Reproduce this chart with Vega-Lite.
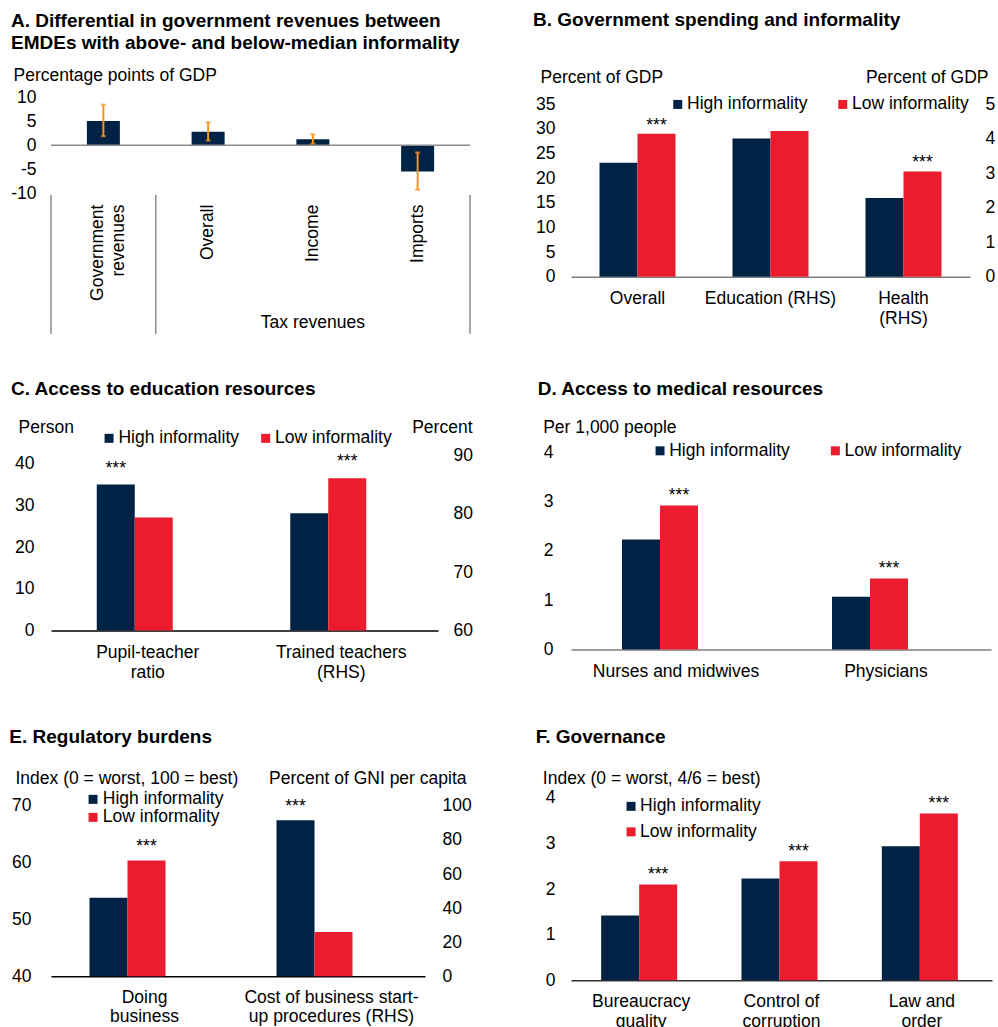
{
"$schema": "https://vega.github.io/schema/vega-lite/v6.json",
"background": "white",
"padding": {"left": 9, "top": 10.5, "right": 4, "bottom": 0},
"config": {
 "font": "Liberation Sans",
 "view": {"stroke": null},
 "axis": {"labelFont": "Liberation Sans", "labelFontSize": 17.5, "labelColor": "#000", "titleFont": "Liberation Sans", "titleFontSize": 17.5, "titleFontWeight": "normal", "titleColor": "#000", "grid": false, "ticks": false, "tickSize": 0, "labelLimit": 0, "labelOverlap": false},
 "axisY": {"domain": false},
 "legend": {"labelFont": "Liberation Sans", "labelFontSize": 17.5, "labelColor": "#000", "symbolType": "square", "symbolSize": 81, "symbolStrokeWidth": 0, "labelLimit": 0},
 "title": {"font": "Liberation Sans", "fontSize": 19, "fontWeight": "bold", "color": "#000", "anchor": "start", "frame": "group", "offset": 0},
 "text": {"font": "Liberation Sans", "fontSize": 17.5, "color": "#000"}
},
"columns": 2,
"bounds": "flush",
"spacing": {"row": 147.7, "column": 101},
"resolve": {"scale": {"color": "independent"}, "legend": {"color": "independent"}},
"concat": [
 {
  "width": 419, "height": 206.3,
  "title": {"text": ["A. Differential in government revenues between", "EMDEs with above- and below-median informality"], "dx": -40, "dy": -10, "lineHeight": 22},
  "layer": [
   {"data": {"values": [
     {"cat": "Government revenues", "v": 5.1, "lo": 1.9, "hi": 8.5},
     {"cat": "Overall", "v": 2.85, "lo": 1.0, "hi": 4.8},
     {"cat": "Income", "v": 1.25, "lo": 0.35, "hi": 2.3},
     {"cat": "Imports", "v": -5.5, "lo": -9.3, "hi": -1.5}]},
    "layer": [
     {"mark": {"type": "bar", "color": "#002245"},
      "encoding": {
       "x": {"field": "cat", "type": "nominal", "sort": null, "scale": {"domain": ["Government revenues", "Overall", "Income", "Imports"], "paddingInner": 0.685, "paddingOuter": 0.3425},
             "axis": {"title": null, "offset": -110.7, "labelAngle": -90, "labelAlign": "right", "labelBaseline": "middle", "labelPadding": 11, "domain": false, "labelLineHeight": 21,
                      "labelOffset": {"condition": {"test": "datum.label == 'Government revenues'", "value": -5}, "value": 0},
                      "labelExpr": "datum.label == 'Government revenues' ? ['Government', 'revenues'] : datum.label"}},
       "y": {"field": "v", "type": "quantitative", "title": "Percentage points of GDP", "scale": {"domain": [-33.16, 10], "nice": false, "zero": false},
             "axis": {"values": [-10, -5, 0, 5, 10], "labelOverlap": false, "labelExpr": "datum.value + ''", "labelPadding": 15, "titleAngle": 0, "titleAlign": "left", "titleBaseline": "middle", "titleX": -38, "titleY": -21.7}}}},
     {"data": {"values": [{}]}, "mark": {"type": "rule", "color": "#8c8c8c", "strokeWidth": 1.5},
      "encoding": {"y": {"datum": 0, "type": "quantitative", "title": "Percentage points of GDP"}}},
     {"mark": {"type": "errorbar", "color": "#F7941D", "thickness": 2, "ticks": {"size": 5, "thickness": 2}},
      "encoding": {
       "x": {"field": "cat", "type": "nominal", "sort": null},
       "y": {"field": "lo", "type": "quantitative", "title": "Percentage points of GDP"},
       "y2": {"field": "hi"}}}
    ]},
   {"data": {"values": [{"b": 0}, {"b": 1}, {"b": 4}]},
    "layer": [
     {"mark": {"type": "rule", "color": "#8c8c8c", "strokeWidth": 1.5},
      "encoding": {
       "x": {"field": "b", "type": "quantitative", "scale": {"domain": [0, 4], "nice": false, "zero": false}, "axis": null},
       "y": {"datum": -10.4, "type": "quantitative", "title": "Percentage points of GDP"},
       "y2": {"datum": -39.5}}},
     {"data": {"values": [{}]}, "mark": {"type": "text", "text": "Tax revenues", "fontSize": 17.5, "baseline": "middle", "align": "center"},
      "encoding": {
       "x": {"datum": 2.5, "type": "quantitative", "axis": null},
       "y": {"datum": -37.1, "type": "quantitative", "title": "Percentage points of GDP"}}}
    ]}
  ],
  "resolve": {"scale": {"x": "independent"}}
 },
 {
  "width": 399, "height": 179.3,
  "title": {"text": "B. Government spending and informality", "dx": -38, "dy": -35},
  "data": {"values": [
   {"cat": "Overall", "s": "High informality", "v": 23.1, "side": "L"},
   {"cat": "Overall", "s": "Low informality", "v": 29.0, "side": "L", "star": "***"},
   {"cat": "Education (RHS)", "s": "High informality", "v": 4.0, "side": "R"},
   {"cat": "Education (RHS)", "s": "Low informality", "v": 4.22, "side": "R"},
   {"cat": "Health (RHS)", "s": "High informality", "v": 2.28, "side": "R"},
   {"cat": "Health (RHS)", "s": "Low informality", "v": 3.05, "side": "R", "star": "***"}]},
  "encoding": {
   "x": {"field": "cat", "type": "nominal", "sort": null, "scale": {"domain": ["Overall", "Education (RHS)", "Health (RHS)"], "paddingInner": 0.4286, "paddingOuter": 0.2143},
         "axis": {"title": null, "labelAngle": 0, "domain": true, "domainColor": "#7f7f7f", "domainWidth": 1.5, "labelPadding": 13, "labelBaseline": "top", "labelLineHeight": 20, "labelExpr": "datum.label == 'Health (RHS)' ? ['Health', '(RHS)'] : datum.label"}},
   "xOffset": {"field": "s", "type": "nominal", "sort": null, "scale": {"domain": ["High informality", "Low informality"], "paddingInner": 0, "paddingOuter": 0}},
   "color": {"field": "s", "type": "nominal", "scale": {"domain": ["High informality", "Low informality"], "range": ["#002245", "#EB1C2D"]},
             "legend": {"title": null, "orient": "none", "direction": "horizontal", "legendX": 98, "legendY": -2.2, "columnPadding": 26, "labelOffset": 0.5, "padding": 0, "offset": 0}}
  },
  "layer": [
   {"transform": [{"filter": "datum.side == 'L'"}],
    "layer": [
     {"mark": "bar", "encoding": {"y": {"field": "v", "type": "quantitative", "scale": {"domain": [0, 36.34], "nice": false, "zero": false},
        "axis": {"orient": "left", "values": [0, 5, 10, 15, 20, 25, 30, 35], "labelOverlap": false, "labelPadding": 16, "title": "Percent of GDP", "titleAngle": 0, "titleAlign": "left", "titleBaseline": "middle", "titleX": -31, "titleY": -19.7}}}},
     {"transform": [{"filter": "isValid(datum.star)"}], "mark": {"type": "text", "fontSize": 17.5, "baseline": "alphabetic", "dy": -3},
      "encoding": {"y": {"field": "v", "type": "quantitative",
        "axis": {"orient": "left", "values": [0, 5, 10, 15, 20, 25, 30, 35], "labelOverlap": false, "labelPadding": 16, "title": "Percent of GDP", "titleAngle": 0, "titleAlign": "left", "titleBaseline": "middle", "titleX": -31, "titleY": -19.7}},
        "text": {"field": "star"}, "color": {"value": "#000"}}}
    ]},
   {"transform": [{"filter": "datum.side == 'R'"}],
    "layer": [
     {"mark": "bar", "encoding": {"y": {"field": "v", "type": "quantitative", "scale": {"domain": [0, 5.19], "nice": false, "zero": false},
        "axis": {"orient": "right", "values": [0, 1, 2, 3, 4, 5], "labelOverlap": false, "labelPadding": 15, "title": "Percent of GDP", "titleAngle": 0, "titleAlign": "right", "titleBaseline": "middle", "titleX": 18, "titleY": -19.7}}}},
     {"transform": [{"filter": "isValid(datum.star)"}], "mark": {"type": "text", "fontSize": 17.5, "baseline": "alphabetic", "dy": -3},
      "encoding": {"y": {"field": "v", "type": "quantitative",
        "axis": {"orient": "right", "values": [0, 1, 2, 3, 4, 5], "labelOverlap": false, "labelPadding": 15, "title": "Percent of GDP", "titleAngle": 0, "titleAlign": "right", "titleBaseline": "middle", "titleX": 18, "titleY": -19.7}},
        "text": {"field": "star"}, "color": {"value": "#000"}}}
    ]}
  ],
  "resolve": {"scale": {"y": "independent"}}
 },
 {
  "width": 387, "height": 178.3,
  "title": {"text": "C. Access to education resources", "dx": -40, "dy": -16},
  "data": {"values": [
   {"cat": "Pupil-teacher ratio", "s": "High informality", "v": 35.0, "side": "L", "star": "***"},
   {"cat": "Pupil-teacher ratio", "s": "Low informality", "v": 27.1, "side": "L"},
   {"cat": "Trained teachers (RHS)", "s": "High informality", "v": 80.1, "side": "R"},
   {"cat": "Trained teachers (RHS)", "s": "Low informality", "v": 86.1, "side": "R", "star": "***"}]},
  "encoding": {
   "x": {"field": "cat", "type": "nominal", "sort": null, "scale": {"domain": ["Pupil-teacher ratio", "Trained teachers (RHS)"], "paddingInner": 0.473, "paddingOuter": 0.2365},
         "axis": {"title": null, "labelAngle": 0, "domain": true, "domainColor": "#000", "domainWidth": 1.5, "labelPadding": 13, "labelBaseline": "top", "labelLineHeight": 20, "labelExpr": "datum.label == 'Pupil-teacher ratio' ? ['Pupil-teacher', 'ratio'] : datum.label == 'Trained teachers (RHS)' ? ['Trained teachers', '(RHS)'] : datum.label"}},
   "xOffset": {"field": "s", "type": "nominal", "sort": null, "scale": {"domain": ["High informality", "Low informality"], "paddingInner": 0.1455, "paddingOuter": 0}},
   "color": {"field": "s", "type": "nominal", "scale": {"domain": ["High informality", "Low informality"], "range": ["#002245", "#EB1C2D"]},
             "legend": {"title": null, "orient": "none", "direction": "horizontal", "legendX": 49.3, "legendY": -23, "columnPadding": 17.6, "labelOffset": 0.6, "padding": 0, "offset": 0}}
  },
  "layer": [
   {"transform": [{"filter": "datum.side == 'L'"}],
    "layer": [
     {"mark": "bar", "encoding": {"y": {"field": "v", "type": "quantitative", "scale": {"domain": [0, 42.76], "nice": false, "zero": false},
        "axis": {"orient": "left", "values": [0, 10, 20, 30, 40], "labelOverlap": false, "labelPadding": 17, "title": "Person", "titleAngle": 0, "titleAlign": "left", "titleBaseline": "middle", "titleX": -33, "titleY": -24.4}}}},
     {"transform": [{"filter": "isValid(datum.star)"}], "mark": {"type": "text", "fontSize": 17.5, "baseline": "alphabetic", "dy": -11},
      "encoding": {"y": {"field": "v", "type": "quantitative",
        "axis": {"orient": "left", "values": [0, 10, 20, 30, 40], "labelOverlap": false, "labelPadding": 17, "title": "Person", "titleAngle": 0, "titleAlign": "left", "titleBaseline": "middle", "titleX": -33, "titleY": -24.4}},
        "text": {"field": "star"}, "color": {"value": "#000"}}}
    ]},
   {"transform": [{"filter": "datum.side == 'R'"}],
    "layer": [
     {"mark": "bar", "encoding": {"y": {"field": "v", "type": "quantitative", "scale": {"domain": [60, 90.58], "nice": false, "zero": false},
        "axis": {"orient": "right", "values": [60, 70, 80, 90], "labelOverlap": false, "labelPadding": 15, "title": "Percent", "titleAngle": 0, "titleAlign": "right", "titleBaseline": "middle", "titleX": 34, "titleY": -24.4}},
        "y2": {"datum": 60}}},
     {"transform": [{"filter": "isValid(datum.star)"}], "mark": {"type": "text", "fontSize": 17.5, "baseline": "alphabetic", "dy": -11},
      "encoding": {"y": {"field": "v", "type": "quantitative",
        "axis": {"orient": "right", "values": [60, 70, 80, 90], "labelOverlap": false, "labelPadding": 15, "title": "Percent", "titleAngle": 0, "titleAlign": "right", "titleBaseline": "middle", "titleX": 34, "titleY": -24.4}},
        "text": {"field": "star"}, "color": {"value": "#000"}}}
    ]}
  ],
  "resolve": {"scale": {"y": "independent"}}
 },
 {
  "width": 420, "height": 197.3,
  "title": {"text": "D. Access to medical resources", "dx": -33.3, "dy": -16},
  "data": {"values": [
   {"cat": "Nurses and midwives", "s": "High informality", "v": 2.23},
   {"cat": "Nurses and midwives", "s": "Low informality", "v": 2.92, "star": "***"},
   {"cat": "Physicians", "s": "High informality", "v": 1.07},
   {"cat": "Physicians", "s": "Low informality", "v": 1.44, "star": "***"}]},
  "encoding": {
   "x": {"field": "cat", "type": "nominal", "sort": null, "scale": {"domain": ["Nurses and midwives", "Physicians"], "paddingInner": 0.4857, "paddingOuter": 0.2429},
         "axis": {"title": null, "labelAngle": 0, "domain": true, "domainColor": "#7f7f7f", "domainWidth": 1.5, "labelPadding": 13, "labelBaseline": "top", "labelLineHeight": 20}},
   "xOffset": {"field": "s", "type": "nominal", "sort": null, "scale": {"domain": ["High informality", "Low informality"], "paddingInner": 0.2, "paddingOuter": 0}},
   "color": {"field": "s", "type": "nominal", "scale": {"domain": ["High informality", "Low informality"], "range": ["#002245", "#EB1C2D"]},
             "legend": {"title": null, "orient": "none", "direction": "horizontal", "legendX": 80.3, "legendY": -10.5, "columnPadding": 36.3, "labelOffset": 0.4, "padding": 0, "offset": 0}}
  },
  "layer": [
   {"mark": "bar", "encoding": {"y": {"field": "v", "type": "quantitative", "scale": {"domain": [0, 4], "nice": false, "zero": false},
      "axis": {"values": [0, 1, 2, 3, 4], "labelOverlap": false, "labelPadding": 18, "title": "Per 1,000 people", "titleAngle": 0, "titleAlign": "left", "titleBaseline": "middle", "titleX": -28.3, "titleY": -24.4}}}},
   {"transform": [{"filter": "isValid(datum.star)"}], "mark": {"type": "text", "fontSize": 17.5, "baseline": "alphabetic", "dy": -4},
    "encoding": {"y": {"field": "v", "type": "quantitative",
      "axis": {"values": [0, 1, 2, 3, 4], "labelOverlap": false, "labelPadding": 18, "title": "Per 1,000 people", "titleAngle": 0, "titleAlign": "left", "titleBaseline": "middle", "titleX": -28.3, "titleY": -24.4}},
      "text": {"field": "star"}, "color": {"value": "#000"}}}
  ]
 },
 {
  "width": 374, "height": 178.3,
  "title": {"text": "E. Regulatory burdens", "dx": -41.7, "dy": -18.4},
  "data": {"values": [
   {"cat": "Doing business", "s": "High informality", "v": 53.8, "side": "L"},
   {"cat": "Doing business", "s": "Low informality", "v": 60.4, "side": "L", "star": "***"},
   {"cat": "Cost of business start-up procedures (RHS)", "s": "High informality", "v": 91.6, "side": "R", "star": "***"},
   {"cat": "Cost of business start-up procedures (RHS)", "s": "Low informality", "v": 26.0, "side": "R"}]},
  "encoding": {
   "x": {"field": "cat", "type": "nominal", "sort": null, "scale": {"domain": ["Doing business", "Cost of business start-up procedures (RHS)"], "paddingInner": 0.4118, "paddingOuter": 0.2059},
         "axis": {"title": null, "labelAngle": 0, "domain": true, "domainColor": "#000", "domainWidth": 1.5, "labelPadding": 12, "labelBaseline": "top", "labelLineHeight": 19.5, "labelExpr": "datum.label == 'Doing business' ? ['Doing', 'business'] : datum.label == 'Cost of business start-up procedures (RHS)' ? ['Cost of business start-', 'up procedures (RHS)'] : datum.label"}},
   "xOffset": {"field": "s", "type": "nominal", "sort": null, "scale": {"domain": ["High informality", "Low informality"], "paddingInner": 0, "paddingOuter": 0}},
   "color": {"field": "s", "type": "nominal", "scale": {"domain": ["High informality", "Low informality"], "range": ["#002245", "#EB1C2D"]},
             "legend": {"title": null, "orient": "none", "direction": "vertical", "legendX": 33.3, "legendY": -7.3, "rowPadding": -1.4, "labelOffset": 1, "padding": 0, "offset": 0}}
  },
  "layer": [
   {"transform": [{"filter": "datum.side == 'L'"}],
    "layer": [
     {"mark": "bar", "encoding": {"y": {"field": "v", "type": "quantitative", "scale": {"domain": [40, 71.41], "nice": false, "zero": false},
        "axis": {"orient": "left", "values": [40, 50, 60, 70], "labelOverlap": false, "labelPadding": 20, "title": "Index (0 = worst, 100 = best)", "titleAngle": 0, "titleAlign": "left", "titleBaseline": "middle", "titleX": -36, "titleY": -19.4}},
        "y2": {"datum": 40}}},
     {"transform": [{"filter": "isValid(datum.star)"}], "mark": {"type": "text", "fontSize": 17.5, "baseline": "alphabetic", "dy": -8},
      "encoding": {"y": {"field": "v", "type": "quantitative",
        "axis": {"orient": "left", "values": [40, 50, 60, 70], "labelOverlap": false, "labelPadding": 20, "title": "Index (0 = worst, 100 = best)", "titleAngle": 0, "titleAlign": "left", "titleBaseline": "middle", "titleX": -36, "titleY": -19.4}},
        "text": {"field": "star"}, "color": {"value": "#000"}}}
    ]},
   {"transform": [{"filter": "datum.side == 'R'"}],
    "layer": [
     {"mark": "bar", "encoding": {"y": {"field": "v", "type": "quantitative", "scale": {"domain": [0, 104.7], "nice": false, "zero": false},
        "axis": {"orient": "right", "values": [0, 20, 40, 60, 80, 100], "labelOverlap": false, "labelPadding": 17, "title": "Percent of GNI per capita", "titleAngle": 0, "titleAlign": "right", "titleBaseline": "middle", "titleX": 41, "titleY": -19.4}}}},
     {"transform": [{"filter": "isValid(datum.star)"}], "mark": {"type": "text", "fontSize": 17.5, "baseline": "alphabetic", "dy": -8},
      "encoding": {"y": {"field": "v", "type": "quantitative",
        "axis": {"orient": "right", "values": [0, 20, 40, 60, 80, 100], "labelOverlap": false, "labelPadding": 17, "title": "Percent of GNI per capita", "titleAngle": 0, "titleAlign": "right", "titleBaseline": "middle", "titleX": 41, "titleY": -19.4}},
        "text": {"field": "star"}, "color": {"value": "#000"}}}
    ]}
  ],
  "resolve": {"scale": {"y": "independent"}}
 },
 {
  "width": 421, "height": 182.3,
  "title": {"text": "F. Governance", "dx": -35.3, "dy": -18.4},
  "data": {"values": [
   {"cat": "Bureaucracy quality", "s": "High informality", "v": 1.42},
   {"cat": "Bureaucracy quality", "s": "Low informality", "v": 2.10, "star": "***"},
   {"cat": "Control of corruption", "s": "High informality", "v": 2.23},
   {"cat": "Control of corruption", "s": "Low informality", "v": 2.61, "star": "***"},
   {"cat": "Law and order", "s": "High informality", "v": 2.94},
   {"cat": "Law and order", "s": "Low informality", "v": 3.66, "star": "***"}]},
  "encoding": {
   "x": {"field": "cat", "type": "nominal", "sort": null, "scale": {"domain": ["Bureaucracy quality", "Control of corruption", "Law and order"], "paddingInner": 0.4299, "paddingOuter": 0.215},
         "axis": {"title": null, "labelAngle": 0, "domain": true, "domainColor": "#333", "domainWidth": 1.5, "labelPadding": 12, "labelBaseline": "top", "labelLineHeight": 20, "labelExpr": "datum.label == 'Bureaucracy quality' ? ['Bureaucracy', 'quality'] : datum.label == 'Control of corruption' ? ['Control of', 'corruption'] : datum.label == 'Law and order' ? ['Law and', 'order'] : datum.label"}},
   "xOffset": {"field": "s", "type": "nominal", "sort": null, "scale": {"domain": ["High informality", "Low informality"], "paddingInner": 0, "paddingOuter": 0}},
   "color": {"field": "s", "type": "nominal", "scale": {"domain": ["High informality", "Low informality"], "range": ["#002245", "#EB1C2D"]},
             "legend": {"title": null, "orient": "none", "direction": "vertical", "legendX": 51.3, "legendY": -0.3, "rowPadding": 6.5, "labelOffset": 0.3, "padding": 0, "offset": 0}}
  },
  "layer": [
   {"mark": "bar", "encoding": {"y": {"field": "v", "type": "quantitative", "scale": {"domain": [0, 4], "nice": false, "zero": false},
      "axis": {"values": [0, 1, 2, 3, 4], "labelOverlap": false, "labelPadding": 16, "title": "Index (0 = worst, 4/6 = best)", "titleAngle": 0, "titleAlign": "left", "titleBaseline": "middle", "titleX": -28.7, "titleY": -19.4}}}},
   {"transform": [{"filter": "isValid(datum.star)"}], "mark": {"type": "text", "fontSize": 17.5, "baseline": "alphabetic", "dy": -4.5},
    "encoding": {"y": {"field": "v", "type": "quantitative",
      "axis": {"values": [0, 1, 2, 3, 4], "labelOverlap": false, "labelPadding": 16, "title": "Index (0 = worst, 4/6 = best)", "titleAngle": 0, "titleAlign": "left", "titleBaseline": "middle", "titleX": -28.7, "titleY": -19.4}},
      "text": {"field": "star"}, "color": {"value": "#000"}}}
  ]
 }
]
}
